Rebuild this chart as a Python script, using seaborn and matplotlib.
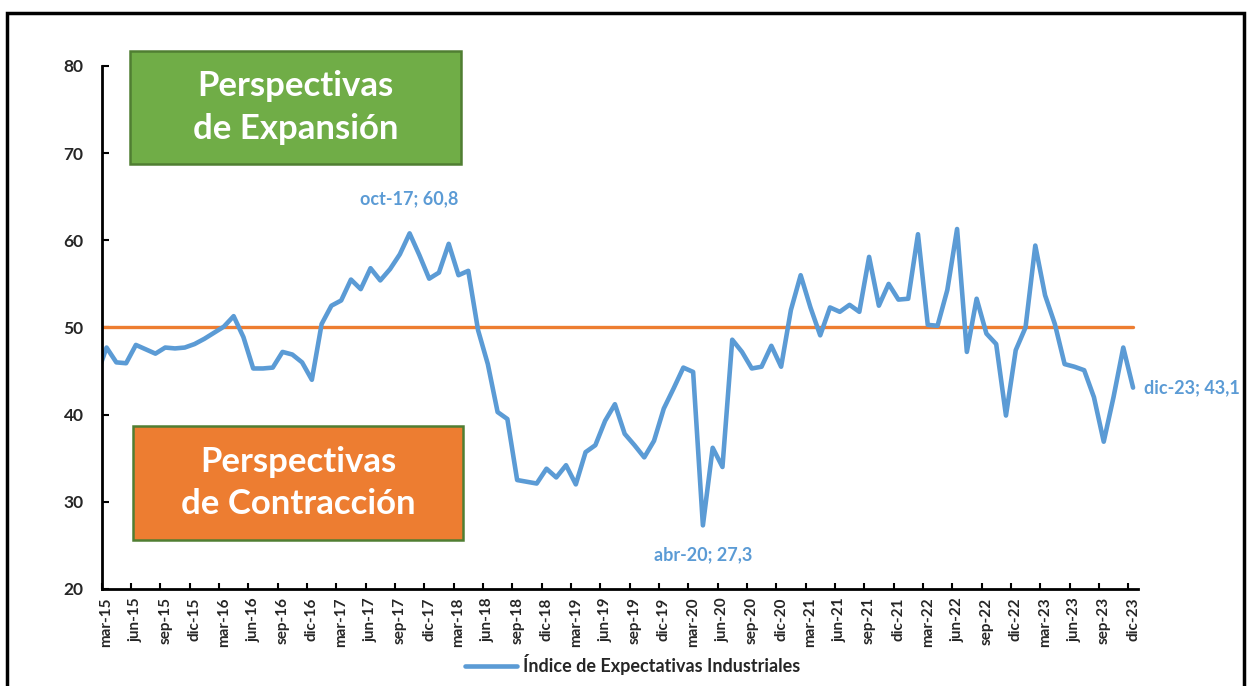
import numpy as np
import pandas as pd
import seaborn as sns
from matplotlib import pyplot as plt
from matplotlib.patches import Rectangle

# monthly index values, feb-15 .. dic-23 (feb-15 sits left of the axis and is clipped)
month_names = ['ene', 'feb', 'mar', 'abr', 'may', 'jun', 'jul', 'ago', 'sep', 'oct', 'nov', 'dic']
start_year = 2015
start_month = 2  # feb

iei_values = [
    44.5,
    47.7, 46.0, 45.9, 48.0, 47.5, 47.0, 47.7, 47.6, 47.7, 48.1,
    48.7, 49.4, 50.1, 51.3, 48.9, 45.3, 45.3, 45.4, 47.2, 46.9, 46.0, 44.0,
    50.4, 52.5, 53.1, 55.5, 54.4, 56.8, 55.4, 56.7, 58.4, 60.8, 58.3, 55.6,
    56.3, 59.6, 56.0, 56.5, 49.7, 45.8, 40.3, 39.5, 32.5, 32.3, 32.1, 33.8,
    32.8, 34.2, 32.0, 35.7, 36.5, 39.3, 41.2, 37.8, 36.5, 35.1, 37.0, 40.7,
    43.0, 45.4, 44.9, 27.3, 36.2, 34.0, 48.6, 47.2, 45.3, 45.5, 47.9, 45.5,
    52.0, 56.0, 52.3, 49.1, 52.3, 51.8, 52.6, 51.8, 58.1, 52.5, 55.0, 53.2,
    53.3, 60.7, 50.3, 50.2, 54.3, 61.3, 47.2, 53.3, 49.3, 48.1, 39.9, 47.4,
    50.0, 59.4, 53.7, 50.4, 45.8, 45.5, 45.1, 42.0, 36.9, 42.0, 47.7, 43.1,
]
threshold = 50
highlight = ['oct-17', 'abr-20', 'dic-23']
series_name = 'Índice de Expectativas Industriales'

labels = []
for k in range(len(iei_values)):
    m = (start_month - 1 + k) % 12
    y = start_year + (start_month - 1 + k) // 12
    labels.append(f'{month_names[m]}-{str(y)[2:]}')

df = pd.DataFrame({'pos': np.arange(len(iei_values)) - 1, 'mes': labels, 'valor': iei_values})
df['umbral'] = threshold

sns.set_theme(style='white')
plt.rcParams['font.family'] = ['Lato', 'DejaVu Sans']
plt.rcParams['font.weight'] = 'bold'

BLUE = '#5B9BD5'
ORANGE = '#ED7D31'
GREEN = '#70AD47'
DKGREEN = '#507E32'

fig = plt.figure(figsize=(12.52, 6.86), dpi=100)
ax = fig.add_axes([0.0812, 0.1414, 0.8277, 0.7624])

sns.lineplot(data=df, x='pos', y='umbral', ax=ax, color=ORANGE, linewidth=2.4, legend=False)
sns.lineplot(data=df, x='pos', y='valor', ax=ax, color=BLUE, linewidth=3.3, label=series_name,
             solid_joinstyle='round', solid_capstyle='round')

ax.set_xlim(-0.5, len(iei_values) - 1.5)
ax.set_ylim(20, 80)
ax.set_yticks(range(20, 81, 10))
ax.tick_params(axis='y', direction='in', length=5, width=1.5, color='black', labelsize=12.5, pad=13, left=True)

shown = df[df['pos'] >= 0]
ax.set_xticks(shown['pos'][::3])
ax.set_xticklabels(shown['mes'][::3], rotation=90, fontsize=11, fontweight='bold')
ax.set_xticks(np.arange(-0.5, shown['pos'].max() + 0.6, 3), minor=True)
ax.tick_params(axis='x', which='major', length=0, pad=6)
ax.tick_params(axis='x', which='minor', direction='in', length=4, width=1.5, color='black', bottom=True)
for t in ax.get_yticklabels():
    t.set_fontweight('bold')

ax.set_xlabel('')
ax.set_ylabel('')
for side in ['top', 'right']:
    ax.spines[side].set_visible(False)
for side in ['left', 'bottom']:
    ax.spines[side].set_color('black')
    ax.spines[side].set_linewidth(2)

# point labels
offsets = {'oct-17': (0, 19, 'center', 'bottom'), 'abr-20': (0, -15, 'center', 'top'),
           'dic-23': (8, 0, 'left', 'center')}
for name in highlight:
    row = df[df['mes'] == name].iloc[0]
    dx, dy, ha, va = offsets[name]
    txt = f"{name}; {row['valor']:.1f}".replace('.', ',')
    ax.annotate(txt, (row['pos'], row['valor']), xytext=(dx, dy), textcoords='offset points',
                ha=ha, va=va, color=BLUE, fontsize=13, fontweight='bold', annotation_clip=False)

# zone boxes
W, H = 1252, 686
boxes = [((130, 51, 331, 113), GREEN, 'Perspectivas\nde Expansión'),
         ((133, 426, 330, 114), ORANGE, 'Perspectivas\nde Contracción')]
for (x0, y0, bw, bh), fc, text in boxes:
    fig.patches.append(Rectangle((x0 / W, 1 - (y0 + bh) / H), bw / W, bh / H, transform=fig.transFigure,
                                 facecolor=fc, edgecolor=DKGREEN, linewidth=1.8, zorder=3))
    fig.text((x0 + bw / 2) / W, 1 - (y0 + bh / 2) / H, text, ha='center', va='center', color='white',
             fontsize=25, fontweight='bold', linespacing=1.4, zorder=4)

# chart border
fig.patches.append(Rectangle((7 / W, -0.02), (1244 - 7) / W, 1 - 13 / H + 0.02, transform=fig.transFigure,
                             facecolor='none', edgecolor='black', linewidth=2.5, zorder=5))

leg = ax.legend(loc='center', bbox_to_anchor=(0.505, 0.031), bbox_transform=fig.transFigure,
                frameon=False, handlelength=2.9, handletextpad=0.3, prop={'size': 13, 'weight': 'bold'})

fig.savefig('out.png', dpi=100)
